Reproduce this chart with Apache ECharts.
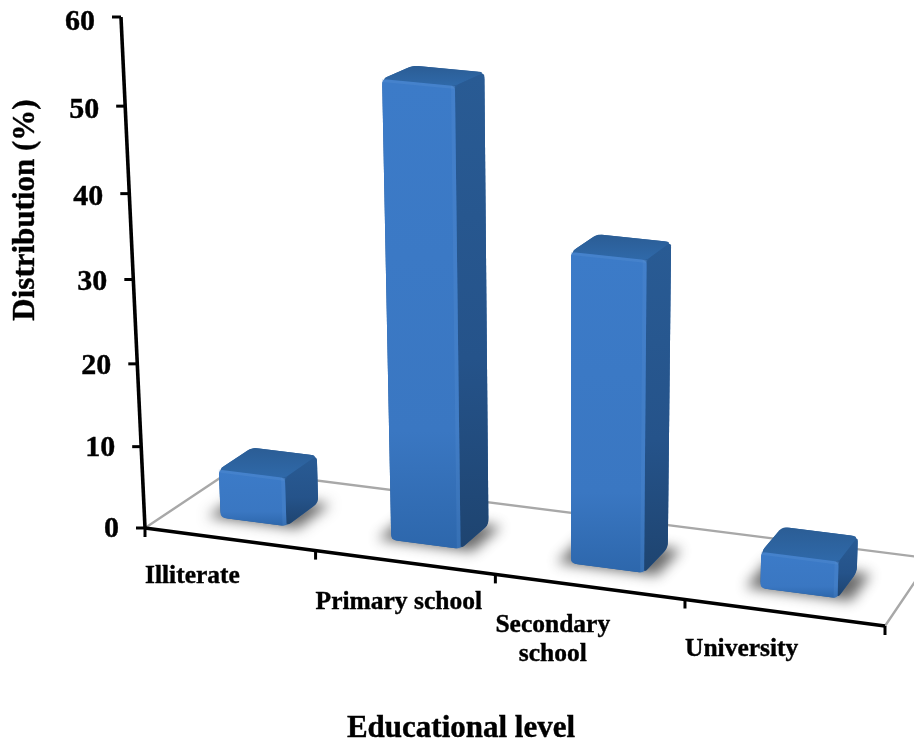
<!DOCTYPE html>
<html>
<head>
<meta charset="utf-8">
<style>html,body{margin:0;padding:0;background:#fff}#chart{width:914px;height:744px}</style>
<script src="https://cdn.jsdelivr.net/npm/echarts@6/dist/echarts.min.js"></script>
</head>
<body>
<div id="chart"></div>
<script>
// Chart data
const categories = ['Illiterate', 'Primary school', 'Secondary\nschool', 'University'];
const shares = [6, 54.5, 37, 4.4];
const yTicks = [0, 10, 20, 30, 40, 50, 60];
const xTitle = 'Educational level';
const yTitle = 'Distribution (%)';

const SERIF = '"Liberation Serif", "Times New Roman", serif';
const W = 914, H = 744;

// Oblique view: floor corners, top of the vertical axis and the point verticals converge on.
const floor = { fl: [145, 528], fr: [885, 626], br: [930.6, 558.5], bl: [232.3, 469.8] };
const axisTop = [121, 17];
const vanishing = [570, 9570];
const spacingBend = -0.05;
const labelDrop = [48, 52, 51, 50];

function buildView() {
  const p0 = floor.fl, p1 = floor.fr, p2 = floor.br, p3 = floor.bl;
  const dx1 = p1[0] - p2[0], dx2 = p3[0] - p2[0], sx = p0[0] - p1[0] + p2[0] - p3[0];
  const dy1 = p1[1] - p2[1], dy2 = p3[1] - p2[1], sy = p0[1] - p1[1] + p2[1] - p3[1];
  const den = dx1 * dy2 - dx2 * dy1;
  const g = (sx * dy2 - dx2 * sy) / den;
  const h = (dx1 * sy - sx * dy1) / den;
  const a = p1[0] - p0[0] + g * p1[0], b = p3[0] - p0[0] + h * p3[0], c = p0[0];
  const d = p1[1] - p0[1] + g * p1[1], e = p3[1] - p0[1] + h * p3[1], f = p0[1];
  const k = (axisTop[1] - p0[1]) / (vanishing[1] - axisTop[1]);
  // u: along the category axis, w: depth of the floor, t: height; all in 0..1
  return function (uIn, w, t) {
    const u = uIn + spacingBend * uIn * (1 - uIn);
    const q = g * u + h * w + 1 + t * k;
    return [
      (a * u + b * w + c + t * k * vanishing[0]) / q,
      (d * u + e * w + f + t * k * vanishing[1]) / q
    ];
  };
}
const view = buildView();

// The cartesian system supplies the scales; its pixel output is normalised and re-projected.
const uOf = px => px / W;
const tOf = py => (H - py) / H;

function roundPoly(pts, r) {
  const out = [];
  const n = pts.length;
  for (let i = 0; i < n; i++) {
    const p = pts[i], a = pts[(i + n - 1) % n], b = pts[(i + 1) % n];
    const la = Math.hypot(a[0] - p[0], a[1] - p[1]), lb = Math.hypot(b[0] - p[0], b[1] - p[1]);
    const ra = Math.min(r, la / 2), rb = Math.min(r, lb / 2);
    const s = [p[0] + (a[0] - p[0]) * ra / la, p[1] + (a[1] - p[1]) * ra / la];
    const e = [p[0] + (b[0] - p[0]) * rb / lb, p[1] + (b[1] - p[1]) * rb / lb];
    for (let j = 0; j <= 5; j++) {
      const m = j / 5, q = 1 - m;
      out.push([
        q * q * s[0] + 2 * q * m * p[0] + m * m * e[0],
        q * q * s[1] + 2 * q * m * p[1] + m * m * e[1]
      ]);
    }
  }
  return out;
}

const vGrad = stops => ({
  type: 'linear', x: 0, y: 0, x2: 0, y2: 1,
  colorStops: stops.map(s => ({ offset: s[0], color: s[1] }))
});

const measure = document.createElement('canvas').getContext('2d');
measure.font = 'bold 25.5px ' + SERIF;

const inkText = { fontFamily: SERIF, fontWeight: 'bold', fill: '#000', stroke: '#000', lineWidth: 0.4 };

function renderFloor(params, api) {
  const x0 = uOf(api.coord([0, 0])[0] - api.size([1, 0])[0] / 2);
  const x1 = uOf(api.coord([categories.length - 1, 0])[0] + api.size([1, 0])[0] / 2);
  const t0 = tOf(api.coord([0, yTicks[0]])[1]);
  const t1 = tOf(api.coord([0, yTicks[yTicks.length - 1]])[1]);
  const grey = { stroke: '#a8a8a8', lineWidth: 2.4, fill: 'none' };
  const black = { stroke: '#000', lineWidth: 3.6, fill: 'none' };
  return {
    type: 'group',
    children: [
      { type: 'polyline', shape: { points: [view(x0, 0, t0), view(x0, 1, t0), view(x1, 1, t0), view(x1, 0, t0)] }, style: grey },
      { type: 'polyline', shape: { points: [view(x0, 0, t0), view(x1, 0, t0)] }, style: black },
      { type: 'polyline', shape: { points: [view(x0, 0, t0), view(x0, 0, t1)] }, style: black }
    ]
  };
}

function renderYTick(params, api) {
  const v = api.value(1);
  const x0 = uOf(api.coord([0, 0])[0] - api.size([1, 0])[0] / 2);
  const p = view(x0, 0, tOf(api.coord([0, v])[1]));
  return {
    type: 'group',
    children: [
      { type: 'line', shape: { x1: p[0] - 9, y1: p[1], x2: p[0], y2: p[1] }, style: { stroke: '#000', lineWidth: 3 } },
      {
        type: 'text',
        style: Object.assign({
          text: String(v), x: p[0] - 26, y: p[1] + 1 + v * 0.07,
          align: 'right', verticalAlign: 'middle', fontSize: 30
        }, inkText)
      }
    ]
  };
}

function renderXTick(params, api) {
  const i = params.dataIndex;
  const band = api.size([1, 0])[0];
  const left = api.coord([i, 0])[0] - band / 2;
  const p = view(uOf(left), 0, 0);
  const kids = [{ type: 'line', shape: { x1: p[0], y1: p[1], x2: p[0], y2: p[1] + 9 }, style: { stroke: '#000', lineWidth: 3 } }];
  if (i === categories.length - 1) {
    const q = view(uOf(left + band), 0, 0);
    kids.push({ type: 'line', shape: { x1: q[0], y1: q[1], x2: q[0], y2: q[1] + 9 }, style: { stroke: '#000', lineWidth: 3 } });
  }
  const lines = categories[i].split('\n');
  const wide = Math.max.apply(null, lines.map(s => measure.measureText(s).width));
  lines.forEach((line, n) => {
    kids.push({
      type: 'text',
      style: Object.assign({
        text: line, x: p[0] + wide / 2, y: p[1] + labelDrop[i] + n * 29,
        align: 'center', verticalAlign: 'middle', fontSize: 25.5
      }, inkText)
    });
  });
  return { type: 'group', children: kids };
}

const BAR_HALF = 0.049, DEPTH_FRONT = 0.28, DEPTH_BACK = 0.67;

function renderBar(params, api) {
  const c = api.coord([api.value(0), api.value(1)]);
  const u = uOf(c[0]);
  const t = tOf(c[1]);
  const u0 = u - BAR_HALF, u1 = u + BAR_HALF, w0 = DEPTH_FRONT, w1 = DEPTH_BACK;
  const fbl = view(u0, w0, 0), fbr = view(u1, w0, 0), bbr = view(u1, w1, 0), bbl = view(u0, w1, 0);
  const ftl = view(u0, w0, t), ftr = view(u1, w0, t), btr = view(u1, w1, t), btl = view(u0, w1, t);
  const lerp = (a, b, m) => [a[0] + (b[0] - a[0]) * m, a[1] + (b[1] - a[1]) * m];
  const edge = 4 / Math.max(5, Math.hypot(ftr[0] - ftl[0], ftr[1] - ftl[1]));
  const away = 2000;
  const footprint = [view(u0 - 0.018, w0 - 0.012, 0), view(u1 + 0.018, w0 - 0.012, 0), view(u1 + 0.018, w1, 0), view(u0 - 0.018, w1, 0)]
    .map(p => [p[0] - away, p[1]]);
  return {
    type: 'group',
    children: [
      { type: 'polygon', shape: { points: footprint }, style: { fill: '#555', shadowBlur: 13, shadowOffsetX: away, shadowColor: 'rgba(90,90,90,0.9)' } },
      { type: 'polygon', shape: { points: roundPoly([fbl, fbr, bbr, btr, btl, ftl], 7) }, style: { fill: '#2a5f9c' } },
      { type: 'polygon', shape: { points: roundPoly([ftl, ftr, btr, btl], 5) }, style: { fill: vGrad([[0, '#2b5d95'], [1, '#2f69a9']]) } },
      { type: 'polygon', shape: { points: roundPoly([fbr, bbr, btr, ftr], 5) }, style: { fill: vGrad([[0, '#295b94'], [0.6, '#25538a'], [1, '#1e4470']]) } },
      { type: 'polygon', shape: { points: roundPoly([fbl, fbr, ftr, ftl], 5) }, style: { fill: vGrad([[0, '#3c7bc8'], [0.75, '#3a77c2'], [1, '#2d67ac']]) } },
      { type: 'polygon', shape: { points: [ftl, ftr, lerp(ftr, fbr, 3 / Math.hypot(fbr[0] - ftr[0], fbr[1] - ftr[1])), lerp(ftl, fbl, 3 / Math.hypot(fbl[0] - ftl[0], fbl[1] - ftl[1]))] }, style: { fill: 'rgba(96,150,215,0.25)' } },
      { type: 'polygon', shape: { points: [lerp(ftr, ftl, edge), ftr, fbr, lerp(fbr, fbl, edge)] }, style: { fill: 'rgba(96,150,215,0.2)' } }
    ]
  };
}

const chart = echarts.init(document.getElementById('chart'), null, { renderer: 'canvas' });
chart.setOption({
  animation: false,
  backgroundColor: '#fff',
  grid: { left: 0, top: 0, width: W, height: H, show: false },
  xAxis: { type: 'category', data: categories, show: false },
  yAxis: { type: 'value', min: 0, max: 60, interval: 10, show: false },
  series: [
    { type: 'custom', name: 'Frame', silent: true, clip: false, z: 1, renderItem: renderFloor, data: [[0, 0]] },
    { type: 'custom', name: 'Value ticks', silent: true, clip: false, z: 2, renderItem: renderYTick, data: yTicks.map(v => [0, v]) },
    { type: 'custom', name: 'Category ticks', silent: true, clip: false, z: 2, renderItem: renderXTick, data: categories.map((c, i) => [i, 0]) },
    { type: 'custom', name: 'Distribution', silent: true, clip: false, z: 3, renderItem: renderBar, data: shares.map((v, i) => [i, v]) }
  ],
  graphic: [
    { type: 'text', x: 461, y: 729, style: Object.assign({ text: xTitle, align: 'center', verticalAlign: 'middle', fontSize: 31 }, inkText) },
    { type: 'text', x: 26, y: 210, rotation: Math.PI / 2, style: Object.assign({ text: yTitle, align: 'center', verticalAlign: 'middle', fontSize: 31 }, inkText) }
  ]
});
</script>
</body>
</html>
